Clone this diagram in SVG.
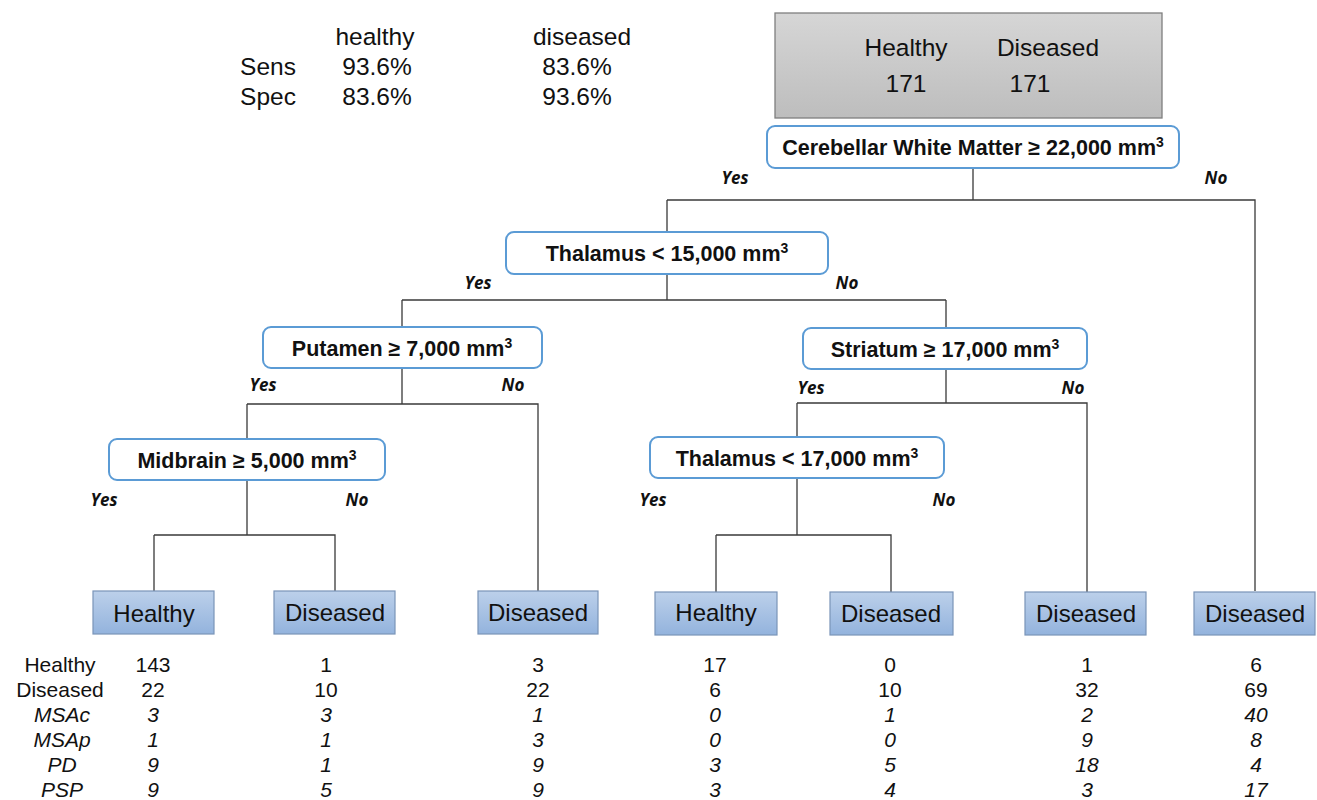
<svg xmlns="http://www.w3.org/2000/svg" width="1317" height="800" viewBox="0 0 1317 800">
<defs>
<linearGradient id="gGray" x1="0" y1="0" x2="0" y2="1"><stop offset="0" stop-color="#d6d6d6"/><stop offset="1" stop-color="#bdbdbd"/></linearGradient>
<linearGradient id="gBlue" x1="0" y1="0" x2="0" y2="1"><stop offset="0" stop-color="#bcd0ea"/><stop offset="1" stop-color="#93b3dd"/></linearGradient>
</defs>
<style>
text{font-family:"Liberation Sans",Arial,sans-serif;fill:#111}
.dec{fill:#fff;stroke:#5b9bd5;stroke-width:2}
.dt{font-size:21.5px;font-weight:bold;text-anchor:middle}
.sup{font-size:14px}
.leaf{fill:url(#gBlue);stroke:#7a94b8;stroke-width:1.2}
.lt{font-size:24px;text-anchor:middle}
.yn{font-family:"Open Sans","Liberation Sans",sans-serif;font-size:17px;font-weight:bold;font-style:italic;text-anchor:middle}
.c{fill:none;stroke:#3a3a3a;stroke-width:1.3}
.tb{font-size:21px;text-anchor:middle}
.it{font-style:italic}
.st{font-size:24.5px;text-anchor:middle}
</style>
<g id="stats">
<text class="st" x="375" y="45">healthy</text>
<text class="st" x="582" y="45">diseased</text>
<text class="st" x="268" y="75">Sens</text>
<text class="st" x="377" y="75">93.6%</text>
<text class="st" x="577" y="75">83.6%</text>
<text class="st" x="268" y="105">Spec</text>
<text class="st" x="377" y="105">83.6%</text>
<text class="st" x="577" y="105">93.6%</text>
</g>
<g id="top">
<rect x="775" y="13" width="387" height="105" fill="url(#gGray)" stroke="#7f7f7f" stroke-width="1.3"/>
<text class="st" x="906" y="56">Healthy</text>
<text class="st" x="1048" y="56">Diseased</text>
<text class="st" x="906" y="92">171</text>
<text class="st" x="1030" y="92">171</text>
</g>
<g id="connectors">
<path class="c" d="M973 168V200M667 200H1255V591M667 200V232"/>
<path class="c" d="M667 274V300M402 300H946M402 300V327M946 300V328"/>
<path class="c" d="M402 368V404M247 404H538V591M247 404V439"/>
<path class="c" d="M946 369V403M797 403H1087V592M797 403V437"/>
<path class="c" d="M247 480V535M154 535H335V591M154 535V591"/>
<path class="c" d="M797 478V535M716 535H891V592M716 535V592"/>
</g>
<g id="labels">
<text class="yn" x="735" y="184">Yes</text>
<text class="yn" x="1216" y="184">No</text>
<text class="yn" x="478" y="289">Yes</text>
<text class="yn" x="847" y="289">No</text>
<text class="yn" x="263" y="391">Yes</text>
<text class="yn" x="513" y="391">No</text>
<text class="yn" x="811" y="394">Yes</text>
<text class="yn" x="1073" y="394">No</text>
<text class="yn" x="104" y="506">Yes</text>
<text class="yn" x="357" y="506">No</text>
<text class="yn" x="653" y="506">Yes</text>
<text class="yn" x="944" y="506">No</text>
</g>
<g id="n-root"><rect class="dec" x="767" y="126" width="412" height="42" rx="8"/><text class="dt" x="973" y="155">Cerebellar White Matter ≥ 22,000 mm<tspan class="sup" dy="-8">3</tspan></text></g>
<g id="n-thal15"><rect class="dec" x="506" y="232" width="322" height="42" rx="8"/><text class="dt" x="667" y="261">Thalamus &lt; 15,000 mm<tspan class="sup" dy="-8">3</tspan></text></g>
<g id="n-put"><rect class="dec" x="263" y="327" width="279" height="41" rx="8"/><text class="dt" x="402" y="356">Putamen ≥ 7,000 mm<tspan class="sup" dy="-8">3</tspan></text></g>
<g id="n-str"><rect class="dec" x="803" y="328" width="284" height="41" rx="8"/><text class="dt" x="945" y="357">Striatum ≥ 17,000 mm<tspan class="sup" dy="-8">3</tspan></text></g>
<g id="n-mid"><rect class="dec" x="109" y="439" width="276" height="41" rx="8"/><text class="dt" x="247" y="468">Midbrain ≥ 5,000 mm<tspan class="sup" dy="-8">3</tspan></text></g>
<g id="n-thal17"><rect class="dec" x="650" y="437" width="294" height="41" rx="8"/><text class="dt" x="797" y="466">Thalamus &lt; 17,000 mm<tspan class="sup" dy="-8">3</tspan></text></g>
<g id="leaf1"><rect class="leaf" x="93" y="591" width="121" height="43"/><text class="lt" x="154" y="622">Healthy</text></g>
<g id="leaf2"><rect class="leaf" x="274" y="591" width="121" height="43"/><text class="lt" x="335" y="621">Diseased</text></g>
<g id="leaf3"><rect class="leaf" x="478" y="591" width="120" height="43"/><text class="lt" x="538" y="621">Diseased</text></g>
<g id="leaf4"><rect class="leaf" x="655" y="592" width="122" height="43"/><text class="lt" x="716" y="621">Healthy</text></g>
<g id="leaf5"><rect class="leaf" x="830" y="592" width="123" height="43"/><text class="lt" x="891" y="622">Diseased</text></g>
<g id="leaf6"><rect class="leaf" x="1025" y="592" width="121" height="43"/><text class="lt" x="1086" y="622">Diseased</text></g>
<g id="leaf7"><rect class="leaf" x="1194" y="592" width="121" height="43"/><text class="lt" x="1255" y="622">Diseased</text></g>
<g id="table">
<text class="tb" x="60" y="672">Healthy</text>
<text class="tb" x="60" y="697">Diseased</text>
<text class="tb it" x="62" y="722">MSAc</text>
<text class="tb it" x="62" y="747">MSAp</text>
<text class="tb it" x="62" y="772">PD</text>
<text class="tb it" x="62" y="797">PSP</text>
<text class="tb" x="153" y="672">143</text><text class="tb" x="153" y="697">22</text><text class="tb it" x="153" y="722">3</text><text class="tb it" x="153" y="747">1</text><text class="tb it" x="153" y="772">9</text><text class="tb it" x="153" y="797">9</text>
<text class="tb" x="326" y="672">1</text><text class="tb" x="326" y="697">10</text><text class="tb it" x="326" y="722">3</text><text class="tb it" x="326" y="747">1</text><text class="tb it" x="326" y="772">1</text><text class="tb it" x="326" y="797">5</text>
<text class="tb" x="538" y="672">3</text><text class="tb" x="538" y="697">22</text><text class="tb it" x="538" y="722">1</text><text class="tb it" x="538" y="747">3</text><text class="tb it" x="538" y="772">9</text><text class="tb it" x="538" y="797">9</text>
<text class="tb" x="715" y="672">17</text><text class="tb" x="715" y="697">6</text><text class="tb it" x="715" y="722">0</text><text class="tb it" x="715" y="747">0</text><text class="tb it" x="715" y="772">3</text><text class="tb it" x="715" y="797">3</text>
<text class="tb" x="890" y="672">0</text><text class="tb" x="890" y="697">10</text><text class="tb it" x="890" y="722">1</text><text class="tb it" x="890" y="747">0</text><text class="tb it" x="890" y="772">5</text><text class="tb it" x="890" y="797">4</text>
<text class="tb" x="1087" y="672">1</text><text class="tb" x="1087" y="697">32</text><text class="tb it" x="1087" y="722">2</text><text class="tb it" x="1087" y="747">9</text><text class="tb it" x="1087" y="772">18</text><text class="tb it" x="1087" y="797">3</text>
<text class="tb" x="1256" y="672">6</text><text class="tb" x="1256" y="697">69</text><text class="tb it" x="1256" y="722">40</text><text class="tb it" x="1256" y="747">8</text><text class="tb it" x="1256" y="772">4</text><text class="tb it" x="1256" y="797">17</text>
</g>
</svg>
